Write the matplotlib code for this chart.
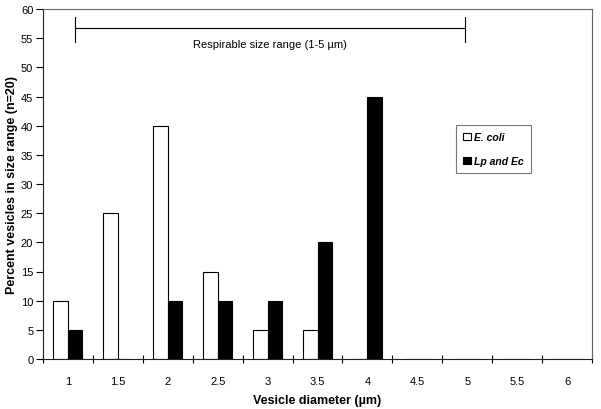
import matplotlib
matplotlib.use("Agg")
import matplotlib.pyplot as plt
import numpy as np

categories = ["1", "1.5", "2", "2.5", "3", "3.5", "4", "4.5", "5", "5.5", "6"]
ecoli = [10, 25, 40, 15, 5, 5, 0, 0, 0, 0, 0]
lp_ec = [5, 0, 10, 10, 10, 20, 45, 0, 0, 0, 0]
yticks = list(range(0, 61, 5))

plt.rcParams['font.family'] = ['Liberation Sans', 'DejaVu Sans']

fig = plt.figure(figsize=(6.01, 4.10), dpi=100)
ax = fig.add_axes([43/601, 1 - 360/410, (592-43)/601, (360-10)/410])

x = np.arange(len(categories))
w = 0.29
ax.bar(x - w/2, ecoli, width=w, color='white', edgecolor='black', linewidth=0.8, label='E. coli')
ax.bar(x + w/2, lp_ec, width=w, color='black', edgecolor='black', linewidth=0.8, label='Lp and Ec')

ax.set_xlim(-0.5, len(categories) - 0.5)
ax.set_ylim(0, 60)
ax.set_yticks(yticks)
ax.set_xticks(x)
ax.set_xticklabels(categories)
ax.set_xticks(np.arange(-0.5, len(categories)), minor=True)
ax.tick_params(axis='x', which='major', length=0, labelsize=8, pad=12)
ax.tick_params(axis='x', which='minor', length=6, direction='inout', width=0.8)
ax.tick_params(axis='y', which='major', length=5, direction='out', labelsize=8, width=0.8, pad=2)

for s in ['top', 'right']:
    ax.spines[s].set_linestyle((0, (1, 1)))
    ax.spines[s].set_color('#666666')
    ax.spines[s].set_linewidth(0.8)
for s in ['left', 'bottom']:
    ax.spines[s].set_color('#222222')
    ax.spines[s].set_linewidth(0.8)

ax.set_xlabel('Vesicle diameter (\u00b5m)', fontsize=9, fontweight='bold', labelpad=6)
ax.set_ylabel('Percent vesicles in size range (n=20)', fontsize=9, fontweight='bold', labelpad=2)

# respirable range bracket
bx0, bx1 = 0.14, 7.96
ax.plot([bx0, bx1], [56.8, 56.8], color='black', linewidth=0.8)
ax.plot([bx0, bx0], [54.3, 58.7], color='black', linewidth=0.8)
ax.plot([bx1, bx1], [54.3, 58.7], color='black', linewidth=0.8)
ax.text((bx0 + bx1) / 2, 54.8, 'Respirable size range (1-5 \u00b5m)', ha='center', va='top', fontsize=8)

leg = ax.legend(loc='upper left', bbox_to_anchor=((456-43)/549, (360-126)/350),
                frameon=True, fancybox=False, edgecolor='#555555', handlelength=0.7,
                handleheight=0.7, handletextpad=0.3, borderpad=0.7, labelspacing=1.3,
                borderaxespad=0,
                prop={'size': 7.5, 'weight': 'bold', 'style': 'italic'})
leg.get_frame().set_linewidth(0.8)

fig.savefig('out.png', dpi=100)
